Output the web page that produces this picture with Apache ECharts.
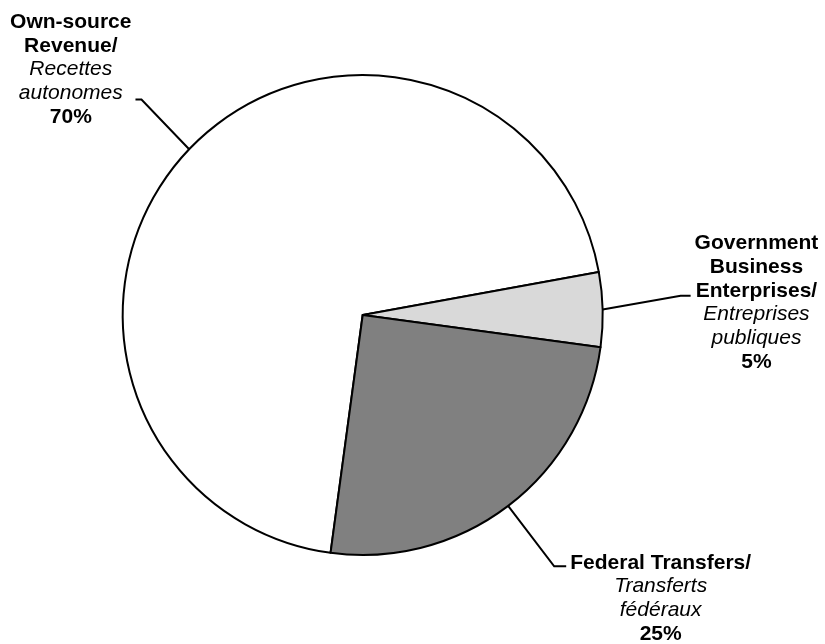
<!DOCTYPE html>
<html><head><meta charset="utf-8">
<script src="https://cdn.jsdelivr.net/npm/echarts@6/dist/echarts.min.js"></script>
<style>html,body{margin:0;padding:0;background:#fff}#c{width:825px;height:644px}</style>
</head><body><div id="c"></div>
<script>
// Data
const namesEn = [['Own-source', 'Revenue/'], ['Government', 'Business', 'Enterprises/'], ['Federal Transfers/']];
const namesFr = [['Recettes', 'autonomes'], ['Entreprises', 'publiques'], ['Transferts', 'fédéraux']];
const values = [70, 5, 25];

// Layout tweaks (label geometry, not data)
const lineLen = [66, 78, 76];
const lineLen2 = [6, 10, 12];
const pads = [[0, 0, 60, 0], [14, 0, 0, 0], [64, 0, 0, 0]];
const shifts = [-4, -12, 0];

const chart = echarts.init(document.getElementById('c'), null, {renderer: 'canvas'});
const FONT = '"Liberation Sans", Arial, sans-serif';
const data = values.map((v, i) => ({
  value: v,
  name: namesEn[i].join(' '),
  label: {padding: pads[i]},
  labelLine: {length: lineLen[i], length2: lineLen2[i]}
}));

chart.setOption({
  animation: false,
  color: ['#ffffff', '#d9d9d9', '#808080'],
  series: [{
    type: 'pie',
    center: [362.7, 315],
    radius: 240,
    startAngle: 262.3,
    clockwise: true,
    avoidLabelOverlap: false,
    emphasis: {disabled: true},
    itemStyle: {borderColor: '#000', borderWidth: 2},
    label: {
      show: true,
      position: 'outside',
      distanceToLabelLine: 4,
      color: '#000',
      formatter: function (p) {
        const i = p.dataIndex;
        const lines = namesEn[i].map(s => '{b|' + s + '}')
          .concat(namesFr[i].map(s => '{i|' + s + '}'))
          .concat(['{b|' + p.value + '%}']);
        return lines.join('\n');
      },
      rich: {
        b: {fontFamily: FONT, fontWeight: 'bold', fontSize: 21, lineHeight: 23.7, color: '#000', align: 'center'},
        i: {fontFamily: FONT, fontStyle: 'italic', fontWeight: 'normal', fontSize: 21, lineHeight: 23.7, color: '#000', align: 'center'}
      }
    },
    labelLine: {
      show: true,
      smooth: false,
      lineStyle: {color: '#000', width: 2}
    },
    labelLayout: function (params) {
      const s = shifts[params.dataIndex];
      const pts = params.labelLinePoints;
      if (!s || !pts) return {};
      return {
        dy: s,
        labelLinePoints: [pts[0], [pts[1][0], pts[1][1] + s], [pts[2][0], pts[2][1] + s]]
      };
    },
    data: data
  }]
});
</script>
</body></html>
